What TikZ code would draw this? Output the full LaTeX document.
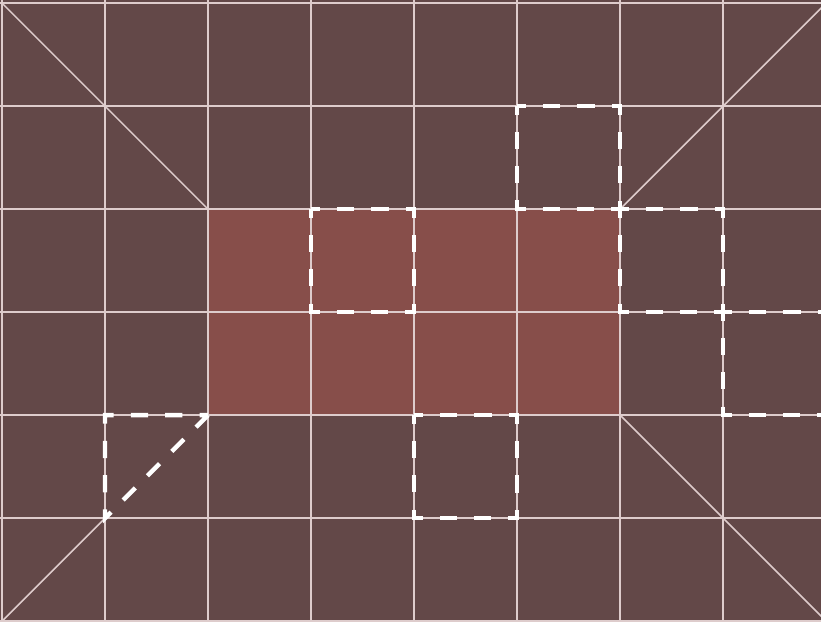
\documentclass[tikz,border=0pt]{standalone}
\usepackage{tikz}

\definecolor{floorbrown}{RGB}{99,72,72}
\definecolor{rugred}{RGB}{135,78,74}
\definecolor{gridwhite}{RGB}{222,204,204}
\tikzset{
  gridline/.style={gridwhite, line width=0.4pt},
  markbox/.style={white, line width=1.2pt, dash pattern=on 4.74pt off 4.74pt,
    dash phase=2.37pt},
}

\begin{document}
\begin{tikzpicture}[x=1cm, y=-1cm]
    \useasboundingbox (-0.02,-0.03) rectangle (7.95,6.0);
    \clip (-0.02,-0.03) rectangle (7.95,6.0);
    % floor and rug
    \fill[floorbrown] (-0.02,-0.03) rectangle (7.95,6.0);
    \fill[rugred] (2,2) rectangle (6,4);

    % grid
    \foreach \x in {0,...,7} \draw[gridline] (\x,-0.03) -- (\x,6.0);
    \foreach \y in {0,...,6} \draw[gridline] (-0.02,\y) -- (7.95,\y);

    % corner diagonals
    \draw[gridline] (0,0) -- (2,2);
    \draw[gridline] (6,2) -- (8,0);
    \draw[gridline] (1,5) -- (0,6);
    \draw[gridline] (6,4) -- (8,6);

    % marked cells
    \foreach \c/\r in {5/1, 3/2, 6/2, 7/3, 4/4}
        \draw[markbox] (\c,\r) rectangle ++(1,1);
    \draw[markbox] (2,4) -- (1,4) -- (1,5) -- cycle;
\end{tikzpicture}
\end{document}
